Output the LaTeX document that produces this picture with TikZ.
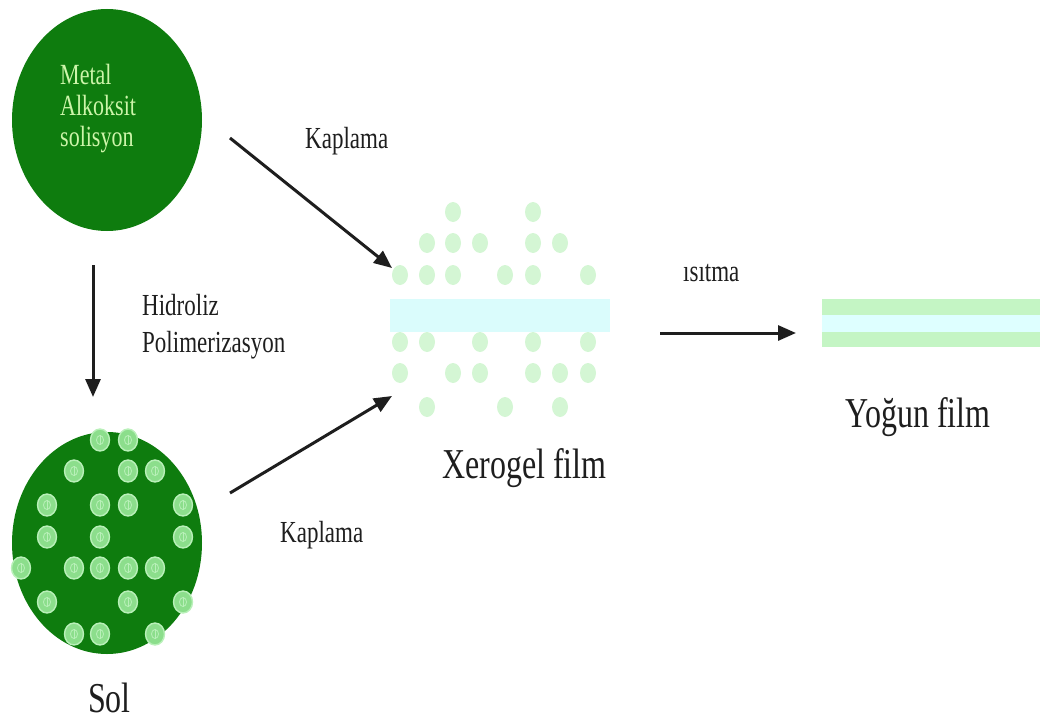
\documentclass[tikz,border=0pt]{standalone}
\usepackage{fontspec}
\usepackage{graphicx}
\setmainfont{Liberation Serif}
\usetikzlibrary{shapes.geometric,arrows.meta}
\definecolor{dgreen}{RGB}{14,124,14}
\definecolor{metaltxt}{RGB}{205,245,170}
\definecolor{soldot}{RGB}{140,222,140}
\definecolor{soldotrim}{RGB}{185,240,185}
\definecolor{xdot}{RGB}{212,246,212}
\definecolor{xband}{RGB}{218,252,252}
\definecolor{ygreen}{RGB}{196,245,196}
\definecolor{ycyan}{RGB}{222,255,255}
\definecolor{txt}{RGB}{30,30,30}
\newcommand\vstretch[1]{\scalebox{1}[1.33]{#1}}
\tikzset{
  blob/.style={ellipse,fill=dgreen,draw=none,minimum width=190pt,minimum height=222pt,inner sep=0pt},
  lbl/.style={inner sep=0pt,text=txt,anchor=base west},
  small/.style={font=\fontsize{23}{27}\selectfont},
  big/.style={font=\fontsize{32}{36}\selectfont},
  mtxt/.style={inner sep=0pt,anchor=base west,text=metaltxt,font=\fontsize{22}{26}\selectfont},
  arr/.style={line width=3pt,draw=txt,-{Triangle[length=18pt,width=15pt]}},
  sdot/.style={ellipse,fill=soldot,draw=soldotrim,line width=1.4pt,minimum width=19pt,minimum height=22pt,inner sep=0pt},
  xd/.style={ellipse,fill=xdot,draw=none,minimum width=16pt,minimum height=20pt,inner sep=0pt}
}
\begin{document}
\begin{tikzpicture}[x=1pt,y=-1pt]
\useasboundingbox (0,0) rectangle (1040,722);
% top circle
\node[blob] (mas) at (107,120) {};
\node[mtxt] (t1) at (60,85) {\vstretch{Metal}};
\node[mtxt] (t2) at (60,116) {\vstretch{Alkoksit}};
\node[mtxt] (t3) at (60,147) {\vstretch{solisyon}};
% bottom circle (Sol)
\node[blob] (sol) at (107,543) {};
\foreach \x/\y [count=\i] in {100/440,128/440,74/471,128/471,155/471,47/505,100/505,128/505,183/505,47/537,100/537,183/537,21/568,74/568,100/568,128/568,155/568,47/602,128/602,183/602,74/634,100/634,155/634}{
  \node[sdot] (sd\i) at (\x,\y) {};
  \draw[soldotrim,line width=0.8pt] (\x,\y-5) -- (\x,\y+5);
  \draw[soldotrim,line width=0.8pt] (\x,\y) ellipse (3.5pt and 4.5pt);
}
\node[lbl,big] (soltxt) at (88,712) {\vstretch{Sol}};
% xerogel
\foreach \x/\y [count=\i] in {453/212,533/212,427/243,453/243,480/243,533/243,560/243,400/275,427/275,453/275,505/275,533/275,588/275,400/342,427/342,480/342,533/342,588/342,400/373,453/373,480/373,533/373,560/373,588/373,427/407,505/407,560/407}{
  \node[xd] (xd\i) at (\x,\y) {};
}
\node[rectangle,fill=xband,draw=none,minimum width=220pt,minimum height=33pt,inner sep=0pt] (band) at (500,315) {};
\node[lbl,big] (xtxt) at (442,478) {\vstretch{Xerogel film}};
% dense film
\node[rectangle,fill=ygreen,draw=none,minimum width=218pt,minimum height=48pt,inner sep=0pt] (yband) at (931,323) {};
\node[rectangle,fill=ycyan,draw=none,minimum width=218pt,minimum height=17pt,inner sep=0pt] (ycyan) at (931,323.5) {};
\node[lbl,big] (ytxt) at (845,427) {\vstretch{Yoğun film}};
% arrows
\coordinate (a1s) at (230,138);
\coordinate (a1e) at (392,268);
\coordinate (a2s) at (230,493);
\coordinate (a2e) at (392,396);
\coordinate (a3s) at (93,265);
\coordinate (a3e) at (93,397);
\coordinate (a4s) at (660,333);
\coordinate (a4e) at (796,333);
\draw[arr] (a1s) -- (a1e);
\draw[arr] (a2s) -- (a2e);
\draw[arr] (a3s) -- (a3e);
\draw[arr] (a4s) -- (a4e);
% labels
\node[lbl,small] (k1) at (305,149) {\vstretch{Kaplama}};
\node[lbl,small] (k2) at (280,542) {\vstretch{Kaplama}};
\node[lbl,small] (h1) at (142,315) {\vstretch{Hidroliz}};
\node[lbl,small] (h2) at (142,352) {\vstretch{Polimerizasyon}};
\node[lbl,small] (is) at (683,281) {\vstretch{ısıtma}};
\end{tikzpicture}
\end{document}
